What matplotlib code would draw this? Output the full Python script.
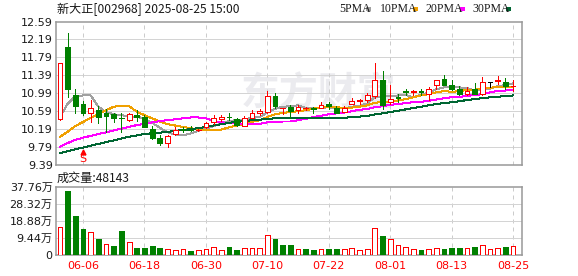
import matplotlib
matplotlib.use('Agg')
import matplotlib.pyplot as plt
from matplotlib.patches import Rectangle
import matplotlib.transforms as mtransforms

plt.rcParams['font.family'] = ['DejaVu Sans', 'Noto Sans CJK SC']

# ---------------- data ----------------
title = '新大正[002968] 2025-08-25 15:00'
volume_caption = '成交量:48143'
ma_labels = ['5PMA', '10PMA', '20PMA', '30PMA']

dates = ['06-03', '06-04', '06-05', '06-06', '06-09', '06-10', '06-11', '06-12', '06-13', '06-16',
         '06-17', '06-18', '06-19', '06-20', '06-23', '06-24', '06-25', '06-26', '06-27', '06-30',
         '07-01', '07-02', '07-03', '07-04', '07-07', '07-08', '07-09', '07-10', '07-11', '07-14',
         '07-15', '07-16', '07-17', '07-18', '07-21', '07-22', '07-23', '07-24', '07-25', '07-28',
         '07-29', '07-30', '07-31', '08-01', '08-04', '08-05', '08-06', '08-07', '08-08', '08-11',
         '08-12', '08-13', '08-14', '08-15', '08-18', '08-19', '08-20', '08-21', '08-22', '08-25']

prev_close = 10.61

opens = [10.42, 12.03, 10.95, 10.74, 10.56, 10.61, 10.56, 10.52, 10.44, 10.39,
         10.51, 10.45, 10.19, 10.00, 9.87, 10.09, 10.19, 10.18, 10.17, 10.23,
         10.34, 10.41, 10.47, 10.41, 10.26, 10.44, 10.56, 10.57, 10.92, 10.66,
         10.69, 10.61, 10.65, 10.65, 10.67, 10.76, 10.65, 10.57, 10.76, 10.81,
         10.83, 10.92, 11.28, 10.80, 10.90, 11.03, 11.01, 11.03, 10.97, 11.18,
         11.30, 11.17, 11.09, 10.98, 11.09, 10.98, 11.23, 11.27, 11.23, 11.15]
highs = [11.67, 12.33, 11.09, 10.81, 10.83, 10.70, 10.63, 10.55, 10.54, 10.55,
         10.61, 10.50, 10.26, 10.06, 10.06, 10.23, 10.24, 10.25, 10.20, 10.35,
         10.50, 10.51, 10.56, 10.43, 10.48, 10.61, 10.63, 11.04, 10.99, 10.67,
         10.72, 10.72, 10.69, 10.69, 10.80, 10.80, 10.70, 10.70, 10.89, 10.86,
         11.00, 11.66, 11.48, 11.17, 10.98, 11.08, 11.06, 11.08, 11.12, 11.29,
         11.39, 11.28, 11.15, 11.12, 11.22, 11.35, 11.23, 11.37, 11.34, 11.28]
lows = [10.40, 10.91, 10.55, 10.50, 10.35, 10.33, 10.12, 10.35, 10.12, 10.38,
        10.37, 10.23, 9.96, 9.83, 9.80, 10.06, 10.13, 10.14, 10.14, 10.21,
        10.31, 10.38, 10.40, 10.26, 10.25, 10.44, 10.50, 10.55, 10.67, 10.52,
        10.43, 10.55, 10.62, 10.54, 10.65, 10.63, 10.55, 10.57, 10.74, 10.75,
        10.80, 10.89, 10.63, 10.74, 10.80, 10.95, 10.95, 10.94, 10.83, 11.09,
        11.17, 11.06, 10.95, 10.95, 10.97, 10.95, 11.13, 11.20, 11.08, 11.03]
closes = [11.67, 11.09, 10.71, 10.55, 10.67, 10.45, 10.49, 10.44, 10.43, 10.52,
          10.46, 10.24, 10.00, 9.89, 10.03, 10.17, 10.18, 10.17, 10.18, 10.32,
          10.43, 10.46, 10.45, 10.29, 10.44, 10.55, 10.59, 10.92, 10.70, 10.67,
          10.60, 10.69, 10.66, 10.63, 10.72, 10.70, 10.55, 10.66, 10.81, 10.83,
          10.95, 11.28, 10.72, 10.87, 10.88, 11.01, 11.03, 11.01, 11.09, 11.28,
          11.18, 11.08, 10.97, 11.04, 10.98, 11.23, 11.23, 11.28, 11.15, 11.16]

ma5 = [10.46, 10.76, 10.92, 10.94, 10.94, 10.69, 10.57, 10.52, 10.50, 10.47,
       10.47, 10.42, 10.33, 10.22, 10.12, 10.07, 10.05, 10.09, 10.15, 10.20,
       10.26, 10.31, 10.37, 10.39, 10.41, 10.44, 10.46, 10.56, 10.64, 10.69,
       10.70, 10.72, 10.66, 10.65, 10.66, 10.68, 10.65, 10.65, 10.69, 10.71,
       10.76, 10.91, 10.92, 10.93, 10.94, 10.95, 10.90, 10.96, 11.00, 11.08,
       11.12, 11.13, 11.12, 11.11, 11.05, 11.06, 11.09, 11.15, 11.17, 11.21]
ma10 = [10.02, 10.13, 10.26, 10.35, 10.44, 10.53, 10.61, 10.69, 10.71, 10.70,
        10.58, 10.50, 10.43, 10.36, 10.30, 10.27, 10.24, 10.21, 10.18, 10.16,
        10.16, 10.18, 10.23, 10.27, 10.31, 10.35, 10.39, 10.46, 10.52, 10.55,
        10.57, 10.59, 10.61, 10.65, 10.67, 10.69, 10.68, 10.66, 10.67, 10.69,
        10.72, 10.78, 10.79, 10.81, 10.83, 10.86, 10.90, 10.94, 10.97, 11.01,
        11.04, 11.02, 11.04, 11.06, 11.07, 11.09, 11.11, 11.14, 11.14, 11.13]
ma20 = [9.80, 9.88, 9.95, 10.00, 10.04, 10.08, 10.12, 10.16, 10.20, 10.24,
        10.28, 10.31, 10.34, 10.37, 10.39, 10.41, 10.43, 10.45, 10.45, 10.43,
        10.37, 10.34, 10.33, 10.31, 10.30, 10.31, 10.31, 10.34, 10.35, 10.36,
        10.36, 10.39, 10.42, 10.46, 10.49, 10.52, 10.54, 10.56, 10.59, 10.62,
        10.64, 10.68, 10.70, 10.73, 10.75, 10.77, 10.79, 10.80, 10.82, 10.85,
        10.88, 10.90, 10.91, 10.93, 10.95, 10.97, 11.01, 11.04, 11.05, 11.07]
ma30 = [9.65, 9.70, 9.74, 9.78, 9.82, 9.86, 9.90, 9.94, 9.98, 10.02,
        10.05, 10.08, 10.10, 10.11, 10.13, 10.15, 10.17, 10.19, 10.21, 10.24,
        10.27, 10.30, 10.33, 10.35, 10.37, 10.39, 10.40, 10.42, 10.43, 10.44,
        10.44, 10.43, 10.43, 10.43, 10.43, 10.44, 10.44, 10.44, 10.46, 10.47,
        10.48, 10.52, 10.54, 10.57, 10.60, 10.63, 10.66, 10.69, 10.72, 10.75,
        10.77, 10.79, 10.81, 10.84, 10.86, 10.88, 10.90, 10.91, 10.93, 10.94]

volumes_wan = [15.4, 35.5, 21.7, 14.4, 12.6, 8.9, 5.9, 5.0, 13.3, 7.0,
               4.1, 4.1, 5.0, 3.9, 3.2, 2.6, 3.2, 2.2, 2.6, 3.2,
               4.3, 2.6, 4.4, 2.8, 3.7, 3.7, 3.7, 11.1, 8.9, 5.6,
               5.6, 3.2, 3.3, 2.8, 3.2, 3.3, 3.3, 3.2, 3.7, 2.8,
               3.2, 14.8, 10.6, 8.7, 5.4, 4.3, 3.2, 2.8, 3.2, 3.7,
               3.3, 3.7, 3.9, 3.7, 4.3, 5.4, 3.2, 3.7, 4.6, 4.81]

price_ticks = [9.39, 9.79, 10.19, 10.59, 10.99, 11.39, 11.79, 12.19, 12.59]
vol_ticks = [0, 9.44, 18.88, 28.32, 37.76]
vol_tick_labels = ['0', '9.44万', '18.88万', '28.32万', '37.76万']
date_ticks = ['06-06', '06-18', '06-30', '07-10', '07-22', '08-01', '08-13', '08-25']
signal_date = '06-06'
signal_text = 'S'

# ---------------- style ----------------
RED = '#ff0000'
GREEN = '#008000'
BLACK = '#000000'
MA_COLORS = ['#a0a0a0', '#f0a000', '#ff00ff', '#006633']
FRAME = '#999999'
GRID = '#d4d4d4'
TXT = '#1a1a1a'
LW = 0.72  # one pixel at 100 dpi

W, H = 578, 276
fig = plt.figure(figsize=(W / 100, H / 100), dpi=100)

def fbox(l, t, r, b):
    return [l / W, 1 - b / H, (r - l) / W, (b - t) / H]

axp = fig.add_axes(fbox(55.5, 21.5, 522, 165))
axv = fig.add_axes(fbox(55.5, 187, 522, 255))

n = len(closes)
xs = list(range(n))
xlim = (-0.59, n + 0.16)
bw = 0.62

# watermark (behind the data)
axp.text(318 / W, 1 - 94 / H, '东方财富', fontsize=28, color='#ebebef',
         family=['Noto Sans CJK SC'], weight='bold', ha='center', va='center',
         transform=fig.transFigure, zorder=0.5)

# ---- price panel ----
for t in price_ticks[1:-1]:
    axp.axhline(t, color=GRID, lw=LW, zorder=1)
tick_idx = [dates.index(d) for d in date_ticks]
for ti in tick_idx:
    axp.axvline(ti, color='#cccccc', lw=LW, ls=(0, (4, 4)), zorder=1)
    axv.axvline(ti, color='#cccccc', lw=LW, ls=(0, (4, 4)), zorder=1)

for k, ma in enumerate([ma5, ma10, ma20, ma30]):
    axp.plot(xs, ma, color=MA_COLORS[k], lw=LW, zorder=2, antialiased=False)

for i in range(n):
    o, h, l, c = opens[i], highs[i], lows[i], closes[i]
    pc = prev_close if i == 0 else closes[i - 1]
    if c > o:
        col = RED
    elif c < o:
        col = GREEN
    else:
        col = RED if c > pc else (GREEN if c < pc else BLACK)
    axp.vlines(i, l, h, color=col, lw=LW, zorder=3, antialiased=False)
    lo, hi = min(o, c), max(o, c)
    if col == RED and hi > lo:
        axp.add_patch(Rectangle((i - bw / 2, lo), bw, hi - lo, facecolor='white',
                                edgecolor=col, lw=LW, zorder=4, antialiased=False))
    elif hi > lo:
        axp.add_patch(Rectangle((i - bw / 2, lo), bw, hi - lo, facecolor=col,
                                edgecolor=col, lw=LW, zorder=4, antialiased=False))
    else:
        axp.hlines(c, i - bw / 2, i + bw / 2, color=col, lw=LW, zorder=4, antialiased=False)

# signal marker
si = dates.index(signal_date)
trans = mtransforms.blended_transform_factory(axp.transData, axp.transAxes)
axp.plot([si], [0.088], marker='^', color=RED, ms=3.5, transform=trans, zorder=5, clip_on=False)
axp.text(si, 0.040, signal_text, color=RED, fontsize=8, ha='center', va='center',
         transform=trans, zorder=5)

axp.set_xlim(*xlim)
axp.set_ylim(price_ticks[0], price_ticks[-1])
axp.set_yticks(price_ticks)
axp.set_yticklabels(['%.2f' % t for t in price_ticks])
axp.set_xticks([])
axp.tick_params(axis='y', length=0, pad=2, labelsize=8, labelcolor=TXT)

# ---- volume panel ----
for t in vol_ticks[1:-1]:
    axv.axhline(t, color=GRID, lw=LW, zorder=1)
for i in range(n):
    pc = prev_close if i == 0 else closes[i - 1]
    up = closes[i] >= pc
    v = volumes_wan[i]
    if up:
        axv.add_patch(Rectangle((i - bw / 2, 0), bw, v, facecolor='white', edgecolor=RED,
                                lw=LW, zorder=3, antialiased=False))
    else:
        axv.add_patch(Rectangle((i - bw / 2, 0), bw, v, facecolor=GREEN, edgecolor=GREEN,
                                lw=LW, zorder=3, antialiased=False))
axv.set_xlim(*xlim)
axv.set_ylim(vol_ticks[0], vol_ticks[-1])
axv.set_yticks(vol_ticks)
axv.set_yticklabels(vol_tick_labels)
axv.set_xticks(tick_idx)
axv.set_xticklabels(date_ticks)
axv.tick_params(axis='y', length=0, pad=2, labelsize=8, labelcolor=TXT)
axv.tick_params(axis='x', length=0, pad=4, labelsize=8, labelcolor=RED)

for ax in (axp, axv):
    for s in ax.spines.values():
        s.set_color(FRAME)
        s.set_linewidth(1.1)

# ---- header texts ----
fig.text(57 / W, 1 - 9 / H, title, fontsize=8.7, color=TXT, ha='left', va='center',
         family=['Noto Sans CJK SC', 'DejaVu Sans'])
fig.text(57 / W, 1 - 178 / H, volume_caption, fontsize=8.7, color=TXT, ha='left', va='center',
         family=['Noto Sans CJK SC', 'DejaVu Sans'])

label_x = [339, 380, 426, 472]
square_x = [366, 413, 460, 506]
for k, lab in enumerate(ma_labels):
    fig.text(label_x[k] / W, 1 - 8.5 / H, lab, fontsize=8.5, color=TXT, ha='left', va='center',
             family=['Liberation Serif'])
    fig.patches.append(Rectangle((square_x[k] / W, 1 - 11 / H), 5 / W, 4 / H,
                                 transform=fig.transFigure, facecolor=MA_COLORS[k],
                                 edgecolor='none', figure=fig))

fig.savefig('out.png', dpi=100)
